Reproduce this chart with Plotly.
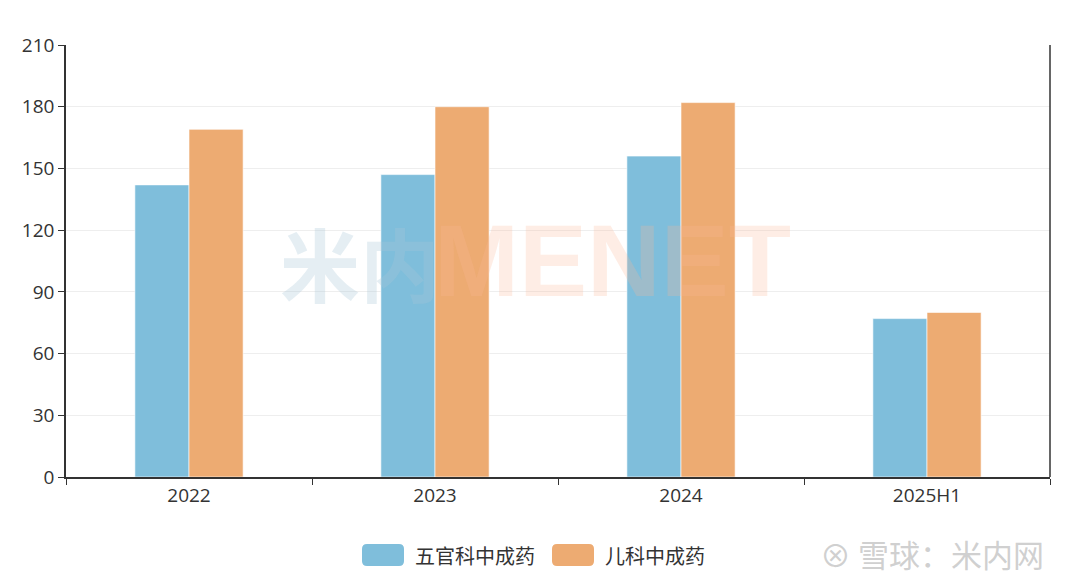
import plotly.graph_objects as go

categories = ["2022", "2023", "2024", "2025H1"]
wuguan = [142, 147, 156, 77]
erke = [169, 180, 182, 80]
series_names = ["五官科中成药", "儿科中成药"]
y_ticks = [0, 30, 60, 90, 120, 150, 180, 210]

BLUE = "#7FBEDB"
ORANGE = "#EDAB72"
FONT = "Noto Sans CJK SC"
NUMFONT = "Open Sans"

# plot area in target pixels: x 66..1050, y 45..477
PX0, PX1, PY0, PY1 = 66, 1050, 45, 477
def px(x):
    return (x - PX0) / (PX1 - PX0)
def py(y):
    return (PY1 - y) / (PY1 - PY0)

fig = go.Figure()
fig.add_trace(go.Bar(x=categories, y=wuguan, name=series_names[0],
                     marker=dict(color=BLUE, line=dict(color="rgba(255,255,255,0.6)", width=1))))
fig.add_trace(go.Bar(x=categories, y=erke, name=series_names[1],
                     marker=dict(color=ORANGE, line=dict(color="rgba(255,255,255,0.6)", width=1))))

# page body has an 8px margin: shrink figure and shift margins accordingly
fig.update_layout(
    width=1072, height=580,
    margin=dict(l=58, r=30, t=37, b=111),
    paper_bgcolor="white", plot_bgcolor="white",
    barmode="group", bargap=0.56, bargroupgap=0,
    font=dict(family=FONT, size=18, color="#333333"),
    showlegend=False,
    xaxis=dict(showline=True, linecolor="#333333", linewidth=1.5,
               ticks="outside", tickson="boundaries", ticklen=6, tickcolor="#333333",
               tickfont=dict(family=NUMFONT, size=19, color="#333333"),
               showgrid=False, zeroline=False),
    yaxis=dict(range=[0, 210], tickvals=y_ticks, showline=True, linecolor="#333333", linewidth=1.5,
               ticks="outside", ticklen=6, tickcolor="#333333",
               tickfont=dict(family=NUMFONT, size=19, color="#333333"),
               showgrid=True, gridcolor="#EEEEEE", gridwidth=1, zeroline=False),
)

# right border line
fig.add_shape(type="line", xref="paper", yref="paper", x0=1, x1=1, y0=0, y1=1,
              line=dict(color="#333333", width=1.5))

# central watermark
fig.add_annotation(xref="paper", yref="paper", x=px(278), y=py(261), xanchor="left", yanchor="middle",
                   text="<b>米内</b>", showarrow=False,
                   font=dict(family=FONT, size=80, color="rgba(170,200,215,0.30)"))
fig.add_annotation(xref="paper", yref="paper", x=px(432), y=py(261), xanchor="left", yanchor="middle",
                   text="<b>MENET</b>", showarrow=False,
                   font=dict(family="Liberation Sans", size=102, color="rgba(250,185,150,0.25)"))

# custom legend with rounded swatches
def rounded_rect(x0, y0, x1, y1, r=5):
    X0, X1 = px(x0), px(x1)
    Y0, Y1 = py(y1), py(y0)  # Y0 bottom, Y1 top (paper)
    rx = r / (PX1 - PX0)
    ry = r / (PY1 - PY0)
    return (f"M {X0+rx},{Y0} L {X1-rx},{Y0} Q {X1},{Y0} {X1},{Y0+ry} "
            f"L {X1},{Y1-ry} Q {X1},{Y1} {X1-rx},{Y1} L {X0+rx},{Y1} "
            f"Q {X0},{Y1} {X0},{Y1-ry} L {X0},{Y0+ry} Q {X0},{Y0} {X0+rx},{Y0} Z")

legend_items = [(series_names[0], BLUE, 362, 404, 413), (series_names[1], ORANGE, 552, 594, 603)]
for name, color, x0, x1, tx in legend_items:
    fig.add_shape(type="path", xref="paper", yref="paper", path=rounded_rect(x0, 544, x1, 566),
                  fillcolor=color, line=dict(width=0))
    fig.add_annotation(xref="paper", yref="paper", x=px(tx), y=py(555), xanchor="left", yanchor="middle",
                       text=name, showarrow=False,
                       font=dict(family=FONT, size=20, color="#333333"))

# bottom-right watermark
fig.add_annotation(xref="paper", yref="paper", x=px(818), y=py(553), xanchor="left", yanchor="middle",
                   text="⊗ 雪球：米内网", showarrow=False,
                   font=dict(family=FONT, size=31, color="rgba(205,205,205,0.95)"))

fig.write_html("out.html")
